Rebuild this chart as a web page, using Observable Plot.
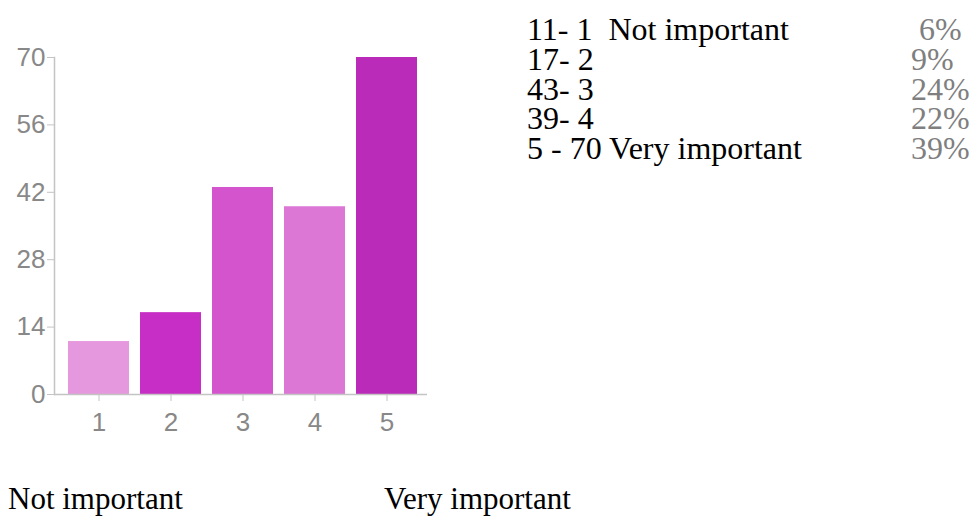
<!DOCTYPE html>
<html>
<head>
<meta charset="utf-8">
<script src="https://cdn.jsdelivr.net/npm/d3@7"></script>
<script src="https://cdn.jsdelivr.net/npm/@observablehq/plot@0.6"></script>
<style>
  html, body { margin: 0; padding: 0; background: #fff; }
  #wrap { position: relative; width: 971px; height: 516px; overflow: hidden; }
  #chart { position: absolute; left: 0; top: 0; }
  #chart svg text { font-size: 26px !important; font-family: 'Liberation Sans', Arial, sans-serif !important; }
  #overlay { position: absolute; left: 0; top: 0; }
</style>
</head>
<body>
<div id="wrap">
  <div id="chart"></div>
  <svg id="overlay" width="971" height="516"></svg>
</div>
<script>
// ---- data ----
const categories = ["1", "2", "3", "4", "5"];
const counts = [11, 17, 43, 39, 70];
const barColors = ["#e598de", "#c72ec5", "#d454cd", "#dc77d6", "#bb2bb9"];
const yTicks = [0, 14, 28, 42, 56, 70];
const listLabels = ["11- 1  Not important", "17- 2", "43- 3", "39- 4", "5 - 70 Very important"];
const listPercents = ["6%", "9%", "24%", "22%", "39%"];
const footLabels = ["Not important", "Very important"];

const rows = categories.map((c, i) => ({cat: c, count: counts[i], color: barColors[i]}));

const axisGray = "#c4c4c4";
const labelGray = "#888888";
const sans = "'Liberation Sans', Arial, sans-serif";

const chart = Plot.plot({
  width: 440,
  height: 440,
  marginTop: 57,
  marginBottom: 46,
  marginLeft: 54,
  marginRight: 13,
  style: {fontFamily: sans, fontSize: "26px", color: labelGray, background: "transparent", overflow: "visible"},
  x: {domain: categories, paddingInner: 0.157, paddingOuter: 0.165, align: 0.57},
  y: {domain: [0, 70]},
  marks: [
    Plot.barY(rows, {x: "cat", y: "count", fill: "color"}),
    Plot.axisY({ticks: yTicks, tickSize: 7, tickPadding: 2, label: null, stroke: axisGray, fill: labelGray, fontSize: 26}),
    Plot.axisX({tickSize: 7, tickPadding: 11, label: null, stroke: axisGray, fill: labelGray, fontSize: 26}),
    Plot.frame({anchor: "left", stroke: axisGray, strokeWidth: 1.5}),
    Plot.ruleY([0], {stroke: axisGray, strokeWidth: 1.5})
  ]
});
document.getElementById("chart").appendChild(chart);

// ---- right-hand list and footer labels ----
const ov = d3.select("#overlay");
const serif = "'Liberation Serif', 'Times New Roman', serif";
const listX = 527, listBase = 40, listStep = 29.8;
ov.selectAll("text.lab").data(listLabels).join("text")
  .attr("class", "lab")
  .attr("x", listX)
  .attr("y", (d, i) => listBase + i * listStep)
  .attr("font-family", serif).attr("font-size", 32)
  .attr("fill", "#000")
  .style("white-space", "pre")
  .text(d => d);
ov.selectAll("text.pct").data(listPercents).join("text")
  .attr("class", "pct")
  .attr("x", (d, i) => i === 0 ? 919 : 911)
  .attr("y", (d, i) => listBase + i * listStep)
  .attr("font-family", serif).attr("font-size", 32)
  .attr("fill", "#7f7f7f")
  .text(d => d);
ov.selectAll("text.foot").data(footLabels).join("text")
  .attr("class", "foot")
  .attr("x", (d, i) => i === 0 ? 8 : 384)
  .attr("y", 509)
  .attr("font-family", serif).attr("font-size", 31)
  .attr("fill", "#000")
  .text(d => d);
</script>
</body>
</html>
